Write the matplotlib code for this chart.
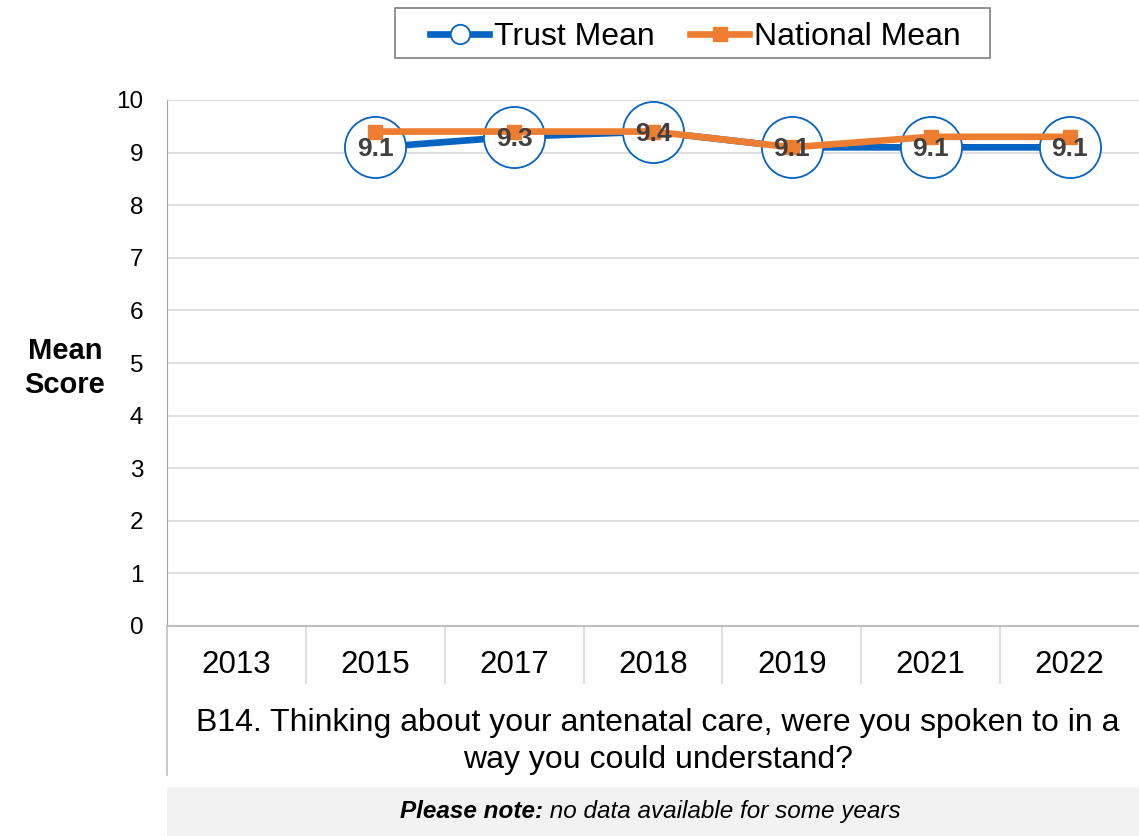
import numpy as np
import matplotlib.pyplot as plt
from matplotlib.lines import Line2D
from matplotlib.patches import Rectangle
import matplotlib.transforms as mtransforms

years = ["2013", "2015", "2017", "2018", "2019", "2021", "2022"]
trust_mean = [np.nan, 9.1, 9.3, 9.4, 9.1, 9.1, 9.1]
national_mean = [np.nan, 9.4, 9.4, 9.4, 9.1, 9.3, 9.3]
question = "B14. Thinking about your antenatal care, were you spoken to in a\nway you could understand?"

BLUE = "#0563C1"
ORANGE = "#ED7D31"
GRID = "#D9D9D9"
AXIS = "#BFBFBF"

plt.rcParams["font.family"] = ["Liberation Sans", "DejaVu Sans"]

fig = plt.figure(figsize=(11.39, 8.36), dpi=100)
ax = fig.add_axes([167 / 1139, 1 - 626 / 836, 1 - 167 / 1139, 526 / 836])

x = np.arange(len(years))
ax.plot(x, trust_mean, color=BLUE, linewidth=4.8, marker="o", markersize=44,
        markerfacecolor="white", markeredgecolor=BLUE, markeredgewidth=1.3, zorder=3)
ax.plot(x, national_mean, color=ORANGE, linewidth=4.8, marker="s", markersize=10,
        zorder=4)

for xi, v in zip(x, trust_mean):
    if not np.isnan(v):
        ax.text(xi, v - 0.04, f"{v:.1f}", ha="center", va="center", fontsize=19,
                fontweight="bold", color="#404040", zorder=5)

ax.set_xlim(-0.5, len(years) - 0.5)
ax.set_ylim(0, 10)
ax.set_yticks(range(0, 11))
ax.tick_params(axis="y", length=0, labelsize=17.5, pad=17)
ax.set_xticks(x)
ax.set_xticklabels(years)
ax.tick_params(axis="x", length=0, labelsize=22.5, pad=17.5)
ax.grid(axis="y", color=GRID, linewidth=1.2)
ax.set_axisbelow(True)
for side in ["top", "right"]:
    ax.spines[side].set_visible(False)
ax.spines["left"].set_color("#A6A6A6")
ax.spines["bottom"].set_color(AXIS)
ax.spines["bottom"].set_linewidth(1.5)

# category separators below the axis
trans = mtransforms.blended_transform_factory(ax.transData, ax.transAxes)
for b in np.arange(0.5, len(years) - 0.5):
    ax.plot([b, b], [0, -0.108], transform=trans, color=GRID, linewidth=1.2,
            clip_on=False)
ax.plot([-0.5, -0.5], [0, -0.283], transform=trans, color=AXIS, linewidth=1.2,
        clip_on=False)

ax.text(0.505, -0.22, question, transform=ax.transAxes, ha="center", va="center",
        fontsize=23, linespacing=1.3)

fig.text(65 / 1139, 1 - 368 / 836, "Mean\nScore", ha="center", va="center",
         fontsize=21, fontweight="bold", linespacing=1.3)

# note box
note_ax = fig.add_axes([167 / 1139, 0, 1 - 167 / 1139, 49 / 836])
note_ax.set_facecolor("#F2F2F2")
note_ax.set_xticks([])
note_ax.set_yticks([])
for s in note_ax.spines.values():
    s.set_visible(False)
t1 = note_ax.text(0.0, 0.5, "Please note:", fontsize=17.5, fontweight="bold",
                  style="italic", va="center", ha="left")
t2 = note_ax.text(0.0, 0.5, " no data available for some years", fontsize=17.5,
                  style="italic", va="center", ha="left")
fig.canvas.draw()
r = fig.canvas.get_renderer()
w1 = t1.get_window_extent(r).width
w2 = t2.get_window_extent(r).width
ax_w = note_ax.get_window_extent(r).width
start = (650 - 167) / (1139 - 167) - (w1 + w2) / 2 / ax_w
t1.set_x(start)
t2.set_x(start + w1 / ax_w)

# legend with a hand-placed frame
handles = [
    Line2D([], [], color=BLUE, linewidth=4.8, marker="o", markersize=14,
           markerfacecolor="white", markeredgecolor=BLUE, markeredgewidth=1.3),
    Line2D([], [], color=ORANGE, linewidth=4.8, marker="s", markersize=10),
]
fig.legend(handles, ["Trust Mean", "National Mean"], loc="center",
           bbox_to_anchor=(695.5 / 1139, 1 - 37 / 836), ncol=2, fontsize=23,
           frameon=False, handlelength=1.85, handletextpad=0.16,
           columnspacing=1.1, borderpad=0, borderaxespad=0)
fig.patches.append(Rectangle((395 / 1139, 1 - 58 / 836), 595 / 1139, 50 / 836,
                             transform=fig.transFigure, facecolor="none",
                             edgecolor="#7F7F7F", linewidth=1.2))

fig.savefig("out.png", dpi=100)
